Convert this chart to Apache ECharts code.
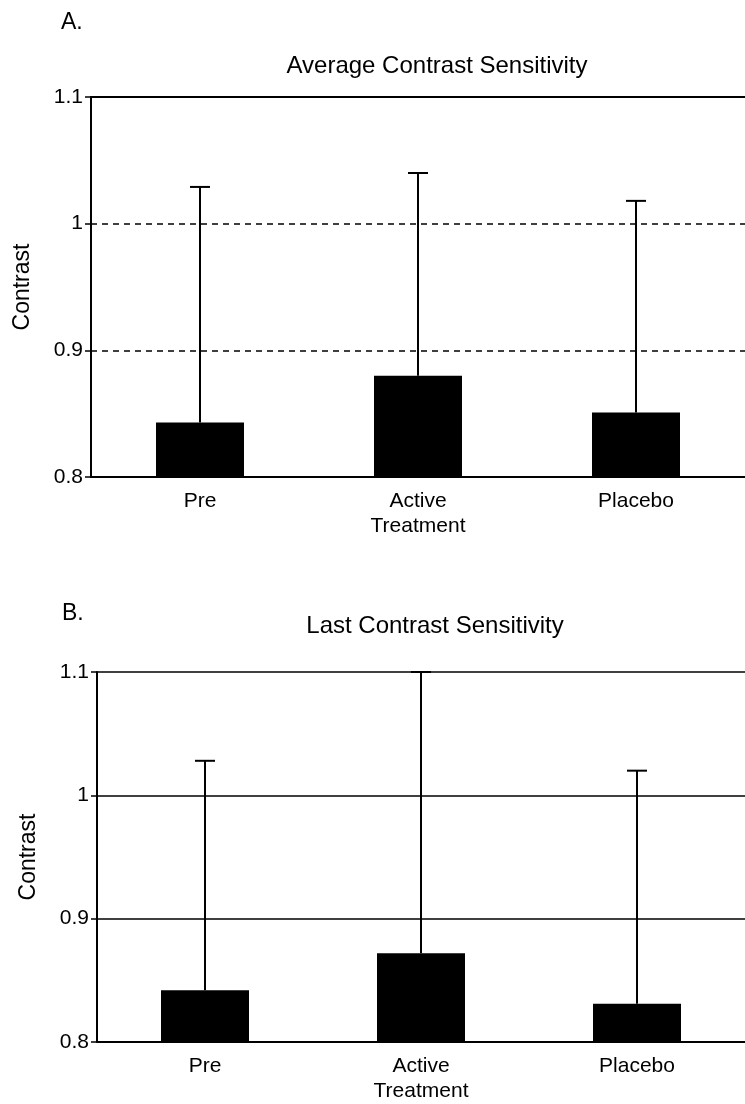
<!DOCTYPE html>
<html>
<head>
<meta charset="utf-8">
<script src="https://cdn.jsdelivr.net/npm/echarts@6/dist/echarts.min.js"></script>
<style>
html,body{margin:0;padding:0;background:#fff;}
#chart{width:745px;height:1104px;}
</style>
</head>
<body>
<div id="chart"></div>
<script>
// ---- data ----
const categories = ['Pre', 'Active\nTreatment', 'Placebo'];
const avgMeans = [0.843, 0.880, 0.851];
const avgUpper = [1.029, 1.040, 1.018];
const lastMeans = [0.842, 0.872, 0.831];
const lastUpper = [1.028, 1.100, 1.020];
const titleA = 'Average Contrast Sensitivity';
const titleB = 'Last Contrast Sensitivity';
const yName = 'Contrast';
const yMin = 0.8, yMax = 1.1, yStep = 0.1;

const FONT = 'Liberation Sans, Arial, Helvetica, sans-serif';

function errRender(params, api) {
  const x = api.value(0), lo = api.value(1), hi = api.value(2);
  const pLo = api.coord([x, lo]);
  const pHi = api.coord([x, hi]);
  const half = 10;
  return {
    type: 'group',
    children: [
      { type: 'line', shape: { x1: pLo[0], y1: pLo[1], x2: pHi[0], y2: pHi[1] },
        style: { stroke: '#000', lineWidth: 2 } },
      { type: 'line', shape: { x1: pHi[0] - half, y1: pHi[1], x2: pHi[0] + half, y2: pHi[1] },
        style: { stroke: '#000', lineWidth: 2 } }
    ]
  };
}

function xAxisFor(gridIndex) {
  return {
    type: 'category', gridIndex: gridIndex, data: categories,
    axisLine: { show: true, lineStyle: { color: '#000', width: 2 } },
    axisTick: { show: false },
    axisLabel: { color: '#000', fontFamily: FONT, fontSize: 21, margin: 12, lineHeight: 25, interval: 0 },
    splitLine: { show: false }
  };
}
function yAxisFor(gridIndex, dashed) {
  return {
    type: 'value', gridIndex: gridIndex, min: yMin, max: yMax, interval: yStep,
    name: yName, nameLocation: 'middle', nameGap: 57,
    nameTextStyle: { color: '#000', fontFamily: FONT, fontSize: 23 },
    axisLine: { show: true, lineStyle: { color: '#000', width: 2 } },
    axisTick: { show: true, length: 6, lineStyle: { color: '#000', width: 1.5 } },
    axisLabel: { color: '#000', fontFamily: FONT, fontSize: 21, margin: 8,
      formatter: v => String(Math.round(v * 10) / 10) },
    splitLine: { show: true, lineStyle: { color: '#000', width: 1.5, type: dashed ? [6, 5] : 'solid' } }
  };
}

const chart = echarts.init(document.getElementById('chart'), null, { renderer: 'canvas' });
chart.setOption({
  animation: false,
  backgroundColor: '#fff',
  title: [
    { text: titleA, left: 432, top: 49, textAlign: 'center',
      textStyle: { color: '#000', fontFamily: FONT, fontSize: 24, fontWeight: 'normal' } },
    { text: titleB, left: 430, top: 609, textAlign: 'center',
      textStyle: { color: '#000', fontFamily: FONT, fontSize: 24, fontWeight: 'normal' } }
  ],
  graphic: [
    { type: 'text', left: 61, top: 11,
      style: { text: 'A.', fill: '#000', font: '23px ' + FONT } },
    { type: 'text', left: 62, top: 602,
      style: { text: 'B.', fill: '#000', font: '23px ' + FONT } }
  ],
  grid: [
    { left: 91, top: 97, width: 657, height: 380 },
    { left: 97, top: 672, width: 657, height: 380 }
  ],
  xAxis: [
    xAxisFor(0),
    xAxisFor(1),
    { type: 'category', gridIndex: 0, position: 'top', data: categories,
      axisLine: { show: true, lineStyle: { color: '#000', width: 2 } },
      axisTick: { show: false }, axisLabel: { show: false }, splitLine: { show: false } }
  ],
  yAxis: [ yAxisFor(0, true), yAxisFor(1, false) ],
  series: [
    { type: 'bar', xAxisIndex: 0, yAxisIndex: 0, data: avgMeans, barWidth: 88,
      itemStyle: { color: '#000' }, z: 3 },
    { type: 'custom', xAxisIndex: 0, yAxisIndex: 0, renderItem: errRender, z: 4,
      data: categories.map((c, i) => [i, avgMeans[i], avgUpper[i]]) },
    { type: 'bar', xAxisIndex: 1, yAxisIndex: 1, data: lastMeans, barWidth: 88,
      itemStyle: { color: '#000' }, z: 3 },
    { type: 'custom', xAxisIndex: 1, yAxisIndex: 1, renderItem: errRender, z: 4,
      data: categories.map((c, i) => [i, lastMeans[i], lastUpper[i]]) }
  ]
});
</script>
</body>
</html>
